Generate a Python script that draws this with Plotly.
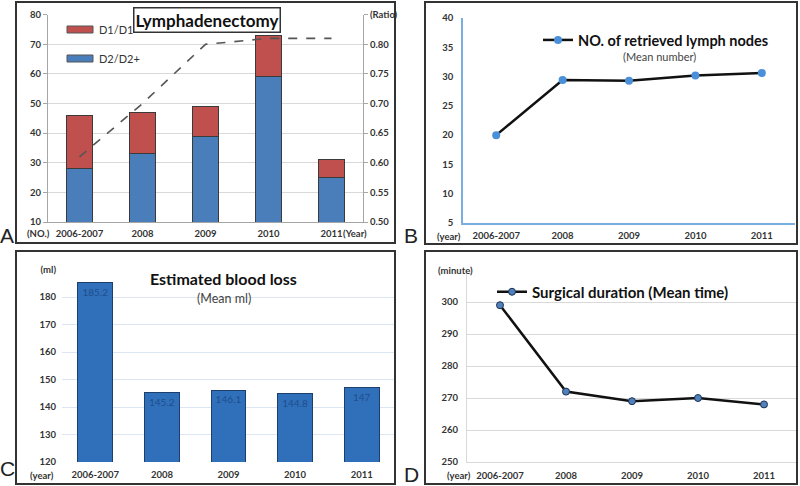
import plotly.graph_objects as go

W, H = 800, 486


def px(x):
    return x / W


def py(y):
    return 1 - y / H


# ---------------- data ----------------
periods = ["2006-2007", "2008", "2009", "2010", "2011"]

# Panel A: lymphadenectomy counts and D2 ratio
d2_counts = [28, 33, 39, 59, 25]
d1_counts = [18, 14, 10, 14, 6]
d2_ratio = [0.61, 0.70, 0.80, 0.81, 0.81]

# Panel B: mean number of retrieved lymph nodes
lymph_nodes = [20.0, 29.4, 29.3, 30.2, 30.6]

# Panel C: estimated blood loss (mean ml)
blood_loss = [185.2, 145.2, 146.1, 144.8, 147]
blood_loss_labels = ["185.2", "145.2", "146.1", "144.8", "147"]

# Panel D: surgical duration (mean minutes)
duration = [299, 272, 269, 270, 268]

# ---------------- styling ----------------
FONT = "Lato, 'Open Sans', sans-serif"
TXT = "#333333"
tickfont = dict(family=FONT, size=9.5, color=TXT, weight="bold")
CAT_RANGE = [-0.5, len(periods) - 0.5]

fig = go.Figure()

# Panel A
fig.add_trace(go.Bar(x=periods, y=d2_counts, name="D2/D2+", marker=dict(color="#4a7ebb", line=dict(color="#3a3a3a", width=1)),
                     xaxis="x", yaxis="y", showlegend=False))
fig.add_trace(go.Bar(x=periods, y=d1_counts, name="D1/D1+", marker=dict(color="#c0504d", line=dict(color="#3a3a3a", width=1)),
                     xaxis="x", yaxis="y", showlegend=False))
fig.add_trace(go.Scatter(x=periods, y=d2_ratio, mode="lines", line=dict(color="#555555", width=1.6, dash="dash"),
                         xaxis="x", yaxis="y2", showlegend=False))

# Panel B
fig.add_trace(go.Scatter(x=periods, y=lymph_nodes, mode="lines+markers", name="NO. of retrieved lymph nodes",
                         line=dict(color="#111111", width=2.5),
                         marker=dict(color="#4a90d9", size=8),
                         xaxis="x3", yaxis="y3", legend="legend"))

# Panel C
fig.add_trace(go.Bar(x=periods, y=blood_loss, text=blood_loss_labels, textposition="inside", insidetextanchor="end",
                     insidetextfont=dict(family=FONT, size=10, color="#1f4e8c"),
                     marker=dict(color="#3070bb", line=dict(color="#1c3f6e", width=1)),
                     width=0.52, xaxis="x4", yaxis="y4", showlegend=False))

# Panel D
fig.add_trace(go.Scatter(x=periods, y=duration, mode="lines+markers", name="Surgical duration (Mean time)",
                         line=dict(color="#111111", width=2.5),
                         marker=dict(color="#4f81bd", size=7, line=dict(color="#1f3050", width=1)),
                         xaxis="x5", yaxis="y5", legend="legend2"))

axis_common = dict(automargin=False, zeroline=False, tickfont=tickfont)

fig.update_layout(
    width=W, height=H, template="none",
    margin=dict(l=0, r=0, t=0, b=0),
    paper_bgcolor="white", plot_bgcolor="rgba(0,0,0,0)",
    barmode="stack", bargap=0.6,
    font=dict(family=FONT, color=TXT),
    # Panel A
    xaxis=dict(domain=[px(48), px(363)], anchor="y", type="category", range=CAT_RANGE, showgrid=False, showline=True,
               linecolor="#a6a6a6", ticks="", ticklabelstandoff=3, **axis_common),
    yaxis=dict(domain=[py(222), py(14.7)], anchor="x", range=[10, 80], dtick=10, showgrid=True, gridcolor="#d9d9d9",
               showline=True, linecolor="#a6a6a6", ticks="outside", ticklen=4, tickcolor="#a6a6a6", **axis_common),
    yaxis2=dict(overlaying="y", side="right", anchor="x", range=[0.5, 0.85],
                tickvals=[0.5, 0.55, 0.6, 0.65, 0.7, 0.75, 0.8, 0.85],
                ticktext=["0.50", "0.55", "0.60", "0.65", "0.70", "0.75", "0.80", "(Ratio)"],
                showgrid=False, showline=True, linecolor="#a6a6a6", ticks="outside", ticklen=4, tickcolor="#a6a6a6",
                **axis_common),
    # Panel B
    xaxis3=dict(domain=[px(463), px(795)], anchor="y3", type="category", range=CAT_RANGE, showgrid=False,
                showline=True, linecolor="#7aaee0", linewidth=1.5, ticks="", ticklabelstandoff=3, **axis_common),
    yaxis3=dict(domain=[py(223), py(18)], anchor="x3", range=[5, 40], dtick=5, showgrid=False, showline=True,
                linecolor="#7aaee0", linewidth=1.5, ticks="", ticklabelstandoff=6, **axis_common),
    # Panel C
    xaxis4=dict(domain=[px(62), px(395)], anchor="y4", type="category", range=CAT_RANGE, showgrid=False,
                showline=False, ticks="", ticklabelstandoff=5, **axis_common),
    yaxis4=dict(domain=[py(462), py(269.5)], anchor="x4", range=[120, 190],
                tickvals=[120, 130, 140, 150, 160, 170, 180, 190],
                ticktext=["120", "130", "140", "150", "160", "170", "180", "(ml)"],
                showgrid=True, gridcolor="#dce6f2", showline=False, ticks="", ticklabelstandoff=5, **axis_common),
    # Panel D
    xaxis5=dict(domain=[px(467), px(797)], anchor="y5", type="category", range=CAT_RANGE, showgrid=False,
                showline=True, linecolor="#d9d9d9", ticks="", ticklabelstandoff=5, **axis_common),
    yaxis5=dict(domain=[py(462), py(270)], anchor="x5", range=[250, 310],
                tickvals=[250, 260, 270, 280, 290, 300, 310],
                ticktext=["250", "260", "270", "280", "290", "300", ""],
                showgrid=True, gridcolor="#d9d9d9", showline=True, linecolor="#d9d9d9", ticks="",
                ticklabelstandoff=6, **axis_common),
    legend=dict(x=px(774), xanchor="right", y=py(40), yanchor="middle", bgcolor="rgba(0,0,0,0)", itemwidth=30,
                font=dict(family=FONT, size=14.5, color="#111111", weight="bold")),
    legend2=dict(x=px(734), xanchor="right", y=py(292), yanchor="middle", bgcolor="rgba(0,0,0,0)", itemwidth=30,
                 font=dict(family=FONT, size=15, color="#111111", weight="bold")),
)

shapes = []
# panel frames
for (x0, y0, x1, y1) in [(16, 2, 395, 243), (425, 2, 797, 244), (16, 251, 395, 484), (425, 251, 797, 484)]:
    shapes.append(dict(type="rect", xref="paper", yref="paper", x0=px(x0), x1=px(x1), y0=py(y1), y1=py(y0),
                       line=dict(color="#333333", width=2), fillcolor="rgba(0,0,0,0)", layer="above"))
# panel A legend swatches
shapes.append(dict(type="rect", xref="paper", yref="paper", x0=px(67), x1=px(93), y0=py(33), y1=py(26),
                   line=dict(color="#555555", width=1), fillcolor="#c0504d"))
shapes.append(dict(type="rect", xref="paper", yref="paper", x0=px(67), x1=px(93), y0=py(62), y1=py(55),
                   line=dict(color="#555555", width=1), fillcolor="#4a7ebb"))
fig.update_layout(shapes=shapes)


def ann(x, y, text, size=11, weight="normal", xanchor="center", color=TXT, family=FONT, **kw):
    return dict(x=px(x), y=py(y), xref="paper", yref="paper", text=text, showarrow=False, xanchor=xanchor,
                yanchor="middle", font=dict(family=family, size=size, color=color, weight=weight), **kw)


annotations = [
    # Panel A legend text
    ann(97, 29.5, "D1/D1+", size=11, xanchor="left"),
    ann(97, 58.5, "D2/D2+", size=11, xanchor="left"),
    # Panel A title box
    ann(206.5, 20, "Lymphadenectomy", size=17, weight="bold", color="#111111",
        bordercolor="#333333", borderwidth=1.5, borderpad=1, bgcolor="white"),
    ann(38, 233, "(NO.)", size=9.5, weight="bold"),
    ann(355, 233, "(Year)", size=9.5, weight="bold"),
    # Panel B
    ann(659, 56, "(Mean number)", size=11, color="#444444"),
    ann(449, 236, "(year)", size=9.5, weight="bold"),
    # Panel C
    ann(223.5, 278, "Estimated blood loss", size=16, weight="bold", color="#111111"),
    ann(224, 298, "(Mean ml)", size=12.5, color="#444444"),
    ann(42, 475, "(year)", size=9.5, weight="bold"),
    # Panel D
    ann(456, 270, "(minute)", size=9.5, weight="bold"),
    ann(459, 475, "(year)", size=9.5, weight="bold"),
    # Panel letters
    ann(7, 235, "A", size=21, color="#222222", family="Liberation Sans, Arial, sans-serif"),
    ann(411, 235, "B", size=21, color="#222222", family="Liberation Sans, Arial, sans-serif"),
    ann(7, 468, "C", size=21, color="#222222", family="Liberation Sans, Arial, sans-serif"),
    ann(411, 474, "D", size=21, color="#222222", family="Liberation Sans, Arial, sans-serif"),
]
fig.update_layout(annotations=annotations)

fig.write_html("out.html", config={"displayModeBar": False},
               post_script="document.body.style.margin='0';document.body.style.overflow='hidden';")
